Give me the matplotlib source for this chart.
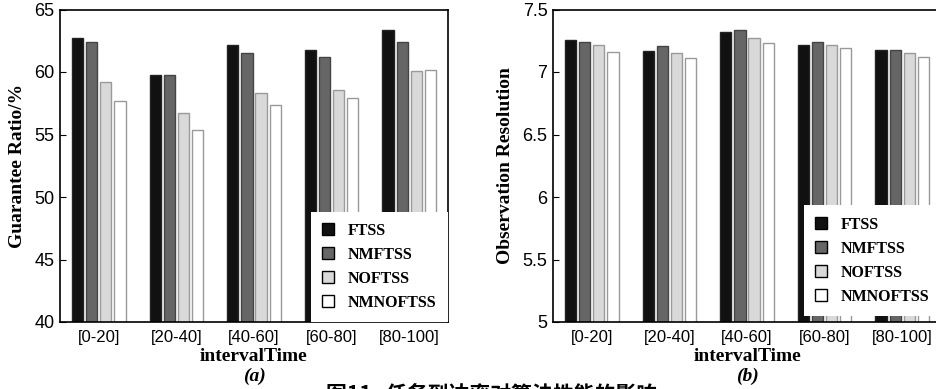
import numpy as np
import matplotlib
matplotlib.use("Agg")
import matplotlib.pyplot as plt
from matplotlib.patches import Patch
from matplotlib.ticker import FormatStrFormatter

plt.rcParams['font.family'] = ['Liberation Sans', 'DejaVu Sans']

categories = ['[0-20]', '[20-40]', '[40-60]', '[60-80]', '[80-100]']
series = ['FTSS', 'NMFTSS', 'NOFTSS', 'NMNOFTSS']

# (a) Guarantee Ratio/%
ratio_ftss = [62.7, 59.8, 62.2, 61.8, 63.4]
ratio_nmftss = [62.4, 59.8, 61.5, 61.2, 62.4]
ratio_noftss = [59.2, 56.7, 58.3, 58.6, 60.1]
ratio_nmnoftss = [57.7, 55.4, 57.4, 57.9, 60.2]

# (b) Observation Resolution
res_ftss = [7.26, 7.17, 7.32, 7.22, 7.18]
res_nmftss = [7.24, 7.21, 7.34, 7.24, 7.18]
res_noftss = [7.22, 7.15, 7.27, 7.22, 7.15]
res_nmnoftss = [7.16, 7.11, 7.23, 7.19, 7.12]

faces = ['#111111', '#666666', '#d9d9d9', '#ffffff']
edges = ['#222222', '#444444', '#9a9a9a', '#999999']

serif = ['Liberation Serif', 'DejaVu Serif']

W, H = 936, 389
fig = plt.figure(figsize=(W / 100, H / 100), dpi=100)
ax1 = fig.add_axes([60 / W, 67 / H, 388 / W, 312.5 / H])
ax2 = fig.add_axes([553 / W, 67 / H, 388 / W, 312.5 / H])

x = np.arange(len(categories))
offs = (np.arange(4) - 1.5) * 0.182
bw = 0.145


def draw(ax, data, ylim, yticks, ylabel, sub, leg_anchor):
    for i, vals in enumerate(data):
        ax.bar(x + offs[i], vals, bw, color=faces[i], edgecolor=edges[i], linewidth=1.0)
    ax.set_xlim(-0.5, 4.5)
    ax.set_ylim(*ylim)
    ax.set_yticks(yticks)
    ax.yaxis.set_major_formatter(FormatStrFormatter('%g'))
    ax.set_xticks(x)
    ax.set_xticklabels(categories, fontsize=12)
    ax.tick_params(axis='x', length=0, pad=6)
    ax.tick_params(axis='y', direction='in', length=4, labelsize=13, pad=4)
    for s in ax.spines.values():
        s.set_linewidth(1.2)
    ax.set_ylabel(ylabel, family=serif, fontsize=14, fontweight='bold', labelpad=6)
    ax.set_xlabel('intervalTime', family=serif, fontsize=14, fontweight='bold', labelpad=2)
    ax.text(0.5, -0.147, sub, transform=ax.transAxes, ha='center', va='top',
            family=serif, fontsize=14, fontweight='bold', fontstyle='italic')
    handles = [Patch(facecolor=faces[i], edgecolor='black', linewidth=1.0) for i in range(4)]
    leg = ax.legend(handles, series, loc='lower right', bbox_to_anchor=leg_anchor,
                    borderaxespad=0, prop={'family': serif, 'size': 11.5, 'weight': 'bold'},
                    handlelength=0.75, handleheight=0.75, handletextpad=0.9,
                    labelspacing=0.5, borderpad=0.7, fancybox=False, framealpha=1)
    leg.get_frame().set_edgecolor('none')


draw(ax1, [ratio_ftss, ratio_nmftss, ratio_noftss, ratio_nmnoftss],
     (40, 65), [40, 45, 50, 55, 60, 65], 'Guarantee Ratio/%', '(a)', (1, 0))
draw(ax2, [res_ftss, res_nmftss, res_noftss, res_nmnoftss],
     (5, 7.5), [5, 5.5, 6, 6.5, 7, 7.5], 'Observation Resolution', '(b)', (1, 0.02))

fig.text(492 / W, 5 / H, '图11   任务到达率对算法性能的影响', ha='center', va='top',
         family=['Noto Sans CJK SC', 'DejaVu Sans'], fontsize=15, fontweight='bold')

fig.savefig('out.png', dpi=100)
